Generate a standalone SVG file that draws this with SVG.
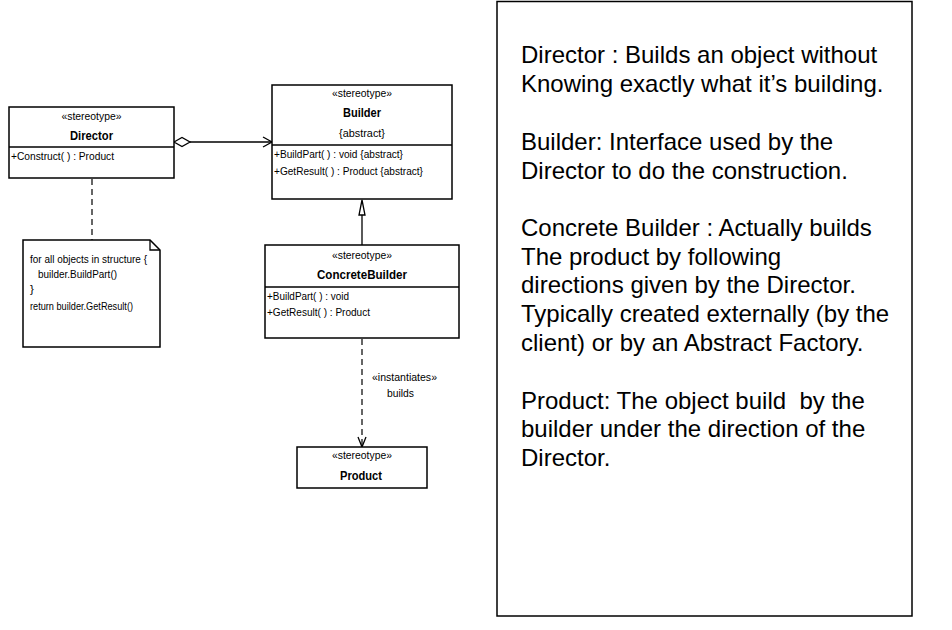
<svg xmlns="http://www.w3.org/2000/svg" width="952" height="630" viewBox="0 0 952 630">
<style>
.box{fill:#fff;stroke:#000;stroke-width:1.5}
.ln{stroke:#000;stroke-width:1.3;fill:none}
.dash{stroke:#000;stroke-width:1.2;fill:none;stroke-dasharray:6,4}
.st{font-family:"Liberation Sans",Arial,sans-serif;font-size:10.5px;text-anchor:middle;fill:#000}
.nm{font-family:"Liberation Sans",Arial,sans-serif;font-size:12.5px;font-weight:bold;text-anchor:middle;fill:#000}
.op{font-family:"Liberation Sans",Arial,sans-serif;font-size:11.5px;fill:#000}
.big{font-family:"Liberation Sans",Arial,sans-serif;font-size:24px;fill:#000;white-space:pre}
</style>
<rect width="952" height="630" fill="#fff"/>
<g id="connectors">
  <line class="ln" x1="190" y1="142" x2="272" y2="142"/>
  <polygon class="ln" points="174,142 182,137.5 190,142 182,146.5" fill="#fff"/>
  <polyline class="ln" points="263,137 272,142 263,147"/>
  <line class="ln" x1="362" y1="245" x2="362" y2="215"/>
  <polygon class="ln" points="362,200 365,215 359,215" fill="#fff"/>
  <line class="dash" x1="92" y1="179" x2="92" y2="240"/>
  <line class="dash" x1="362" y1="339" x2="362" y2="446"/>
  <polyline class="ln" points="358,437 362,447 366,437"/>
  <text class="st" x="404.5" y="381" textLength="65" lengthAdjust="spacingAndGlyphs">«instantiates»</text>
  <text class="st" x="400.5" y="397" textLength="27" lengthAdjust="spacingAndGlyphs">builds</text>
</g>
<g id="Director">
  <rect class="box" x="9" y="107" width="165" height="71"/>
  <line class="ln" x1="9" y1="147" x2="174" y2="147"/>
  <text class="st" x="91.5" y="120" textLength="60" lengthAdjust="spacingAndGlyphs">«stereotype»</text>
  <text class="nm" x="91.5" y="140" textLength="43" lengthAdjust="spacingAndGlyphs">Director</text>
  <text class="op" x="11" y="160" textLength="103" lengthAdjust="spacingAndGlyphs">+Construct( ) : Product</text>
</g>
<g id="Builder">
  <rect class="box" x="272" y="85" width="180" height="114"/>
  <line class="ln" x1="272" y1="145" x2="452" y2="145"/>
  <text class="st" x="362" y="97" textLength="60" lengthAdjust="spacingAndGlyphs">«stereotype»</text>
  <text class="nm" x="362" y="117" textLength="38" lengthAdjust="spacingAndGlyphs">Builder</text>
  <text class="st" x="362" y="137" textLength="46" lengthAdjust="spacingAndGlyphs">{abstract}</text>
  <text class="op" x="274" y="158" textLength="129" lengthAdjust="spacingAndGlyphs">+BuildPart( ) : void {abstract}</text>
  <text class="op" x="274" y="175" textLength="149" lengthAdjust="spacingAndGlyphs">+GetResult( ) : Product {abstract}</text>
</g>
<g id="ConcreteBuilder">
  <rect class="box" x="265" y="245" width="194" height="93"/>
  <line class="ln" x1="265" y1="287" x2="459" y2="287"/>
  <text class="st" x="362" y="259" textLength="60" lengthAdjust="spacingAndGlyphs">«stereotype»</text>
  <text class="nm" x="362" y="279" textLength="90" lengthAdjust="spacingAndGlyphs">ConcreteBuilder</text>
  <text class="op" x="267" y="300" textLength="82" lengthAdjust="spacingAndGlyphs">+BuildPart( ) : void</text>
  <text class="op" x="267" y="316" textLength="103" lengthAdjust="spacingAndGlyphs">+GetResult( ) : Product</text>
</g>
<g id="Product">
  <rect class="box" x="297" y="447" width="130" height="41"/>
  <text class="st" x="362" y="459" textLength="60" lengthAdjust="spacingAndGlyphs">«stereotype»</text>
  <text class="nm" x="361" y="480" textLength="42" lengthAdjust="spacingAndGlyphs">Product</text>
</g>
<g id="Note">
  <path class="box" d="M23,240 H150 L160,250 V347 H23 Z"/>
  <polyline class="ln" points="150,240 150,250 160,250"/>
  <text class="op" x="30" y="263" textLength="117" lengthAdjust="spacingAndGlyphs">for all objects in structure {</text>
  <text class="op" x="38" y="278" textLength="79" lengthAdjust="spacingAndGlyphs">builder.BuildPart()</text>
  <text class="op" x="30" y="293">}</text>
  <text class="op" x="30" y="310" textLength="103" lengthAdjust="spacingAndGlyphs">return builder.GetResult()</text>
</g>
<g id="Description">
  <rect class="box" x="497" y="1.5" width="415" height="614.5"/>
  <text class="big" x="521" y="63">Director : Builds an object without</text>
  <text class="big" x="521" y="92">Knowing exactly what it’s building.</text>
  <text class="big" x="521" y="150">Builder: Interface used by the</text>
  <text class="big" x="521" y="179">Director to do the construction.</text>
  <text class="big" x="521" y="236">Concrete Builder : Actually builds</text>
  <text class="big" x="521" y="264.5">The product by following</text>
  <text class="big" x="521" y="293">directions given by the Director.</text>
  <text class="big" x="521" y="322">Typically created externally (by the</text>
  <text class="big" x="521" y="350.5">client) or by an Abstract Factory.</text>
  <text class="big" x="521" y="408.5" xml:space="preserve">Product: The object build  by the</text>
  <text class="big" x="521" y="437">builder under the direction of the</text>
  <text class="big" x="521" y="466">Director.</text>
</g>
</svg>
